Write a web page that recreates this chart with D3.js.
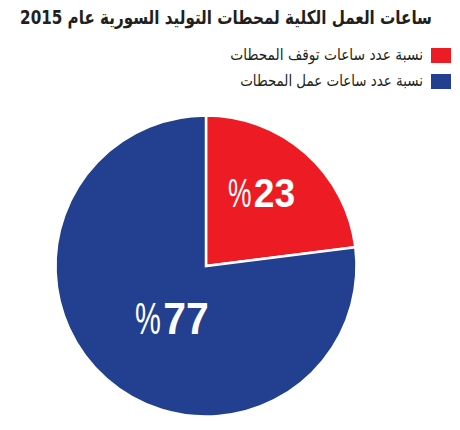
<!DOCTYPE html>
<meta charset="utf-8">
<head>
    <title>ساعات العمل الكلية</title>
    <script src="https://cdn.jsdelivr.net/npm/d3@7/dist/d3.min.js"></script>
</head>
<style>
    body { margin: 0; background: #fff; }
    .arabic { font-family: "DejaVu Sans", sans-serif; fill: #231f20; }
    .pct { font-family: "Liberation Sans", Arial, sans-serif; fill: #fff; }
</style>
<svg></svg>
<script>
    // chart data
    var categories = ["نسبة عدد ساعات توقف المحطات", "نسبة عدد ساعات عمل المحطات"];
    var values = [23, 77];
    var colors = ["#ED1C24", "#233F8F"];
    var title = "ساعات العمل الكلية لمحطات التوليد السورية عام 2015";

    var vWidth = 460, vHeight = 430;
    var cx = 206, cy = 266, radius = 150.5;

    var svg = d3.select('svg')
        .attr('width', vWidth)
        .attr('height', vHeight);

    // squeeze a right-anchored text horizontally so it spans w pixels
    function fitWidth(sel, right, w) {
        sel.each(function (d, i) {
            var t = d3.select(this);
            var target = typeof w === 'function' ? w(d, i) : w;
            var len = this.getComputedTextLength();
            var s = Math.min(1, target / len);
            t.attr('x', 0)
                .attr('transform', 'translate(' + right + ',0) scale(' + s + ',1)');
        });
    }

    // title (rtl: start = right edge)
    svg.append('text')
        .attr('class', 'arabic')
        .attr('y', 24)
        .attr('direction', 'rtl')
        .attr('text-anchor', 'start')
        .style('font-size', '19px')
        .style('font-weight', 'bold')
        .text(title)
        .call(fitWidth, 432, 412);

    // legend
    var legendLen = [193, 183];
    var legend = svg.selectAll('.legend').data(categories).enter().append('g')
        .attr('class', 'legend')
        .attr('transform', function (d, i) { return 'translate(0,' + (48 + i * 26) + ')'; });
    legend.append('rect')
        .attr('x', 431).attr('y', 0)
        .attr('width', 20).attr('height', 15)
        .attr('fill', function (d, i) { return colors[i]; });
    legend.append('text')
        .attr('class', 'arabic')
        .attr('y', 12)
        .attr('direction', 'rtl')
        .attr('text-anchor', 'start')
        .style('font-size', '16px')
        .text(function (d) { return d; })
        .call(fitWidth, 423, function (d, i) { return legendLen[i]; });

    // pie
    var pie = d3.pie().sort(null).value(function (d) { return d; });
    var arcs = pie(values);
    var arc = d3.arc().innerRadius(0).outerRadius(radius);

    var g = svg.append('g')
        .attr('transform', 'translate(' + cx + ',' + cy + ')');

    g.selectAll('path').data(arcs).enter().append('path')
        .attr('d', arc)
        .attr('fill', function (d, i) { return colors[i]; })
        .attr('stroke', '#fff')
        .attr('stroke-width', 2.5);

    // percentage labels: "%" regular + number bold, condensed
    var labelArc = d3.arc().innerRadius(0).outerRadius(radius * 0.9);
    var labelDx = [2, 1];
    var labelDy = [-8, 17];
    var labelSizes = [40, 44];

    var labels = g.selectAll('.lbl').data(arcs).enter().append('g')
        .attr('class', 'lbl')
        .attr('transform', function (d, i) {
            var c = labelArc.centroid(d);
            return 'translate(' + (c[0] + labelDx[i]) + ',' + (c[1] + labelDy[i]) + ')';
        });
    labels.append('text')
        .attr('class', 'pct')
        .attr('transform', 'scale(0.93,1)')
        .attr('x', 1)
        .style('font-size', function (d, i) { return labelSizes[i] + 'px'; })
        .style('font-weight', 'bold')
        .text(function (d) { return d.data; });
    labels.append('text')
        .attr('class', 'pct')
        .attr('transform', 'scale(0.66,1)')
        .attr('x', -2)
        .attr('text-anchor', 'end')
        .style('font-size', function (d, i) { return labelSizes[i] + 'px'; })
        .text('%');
</script>
